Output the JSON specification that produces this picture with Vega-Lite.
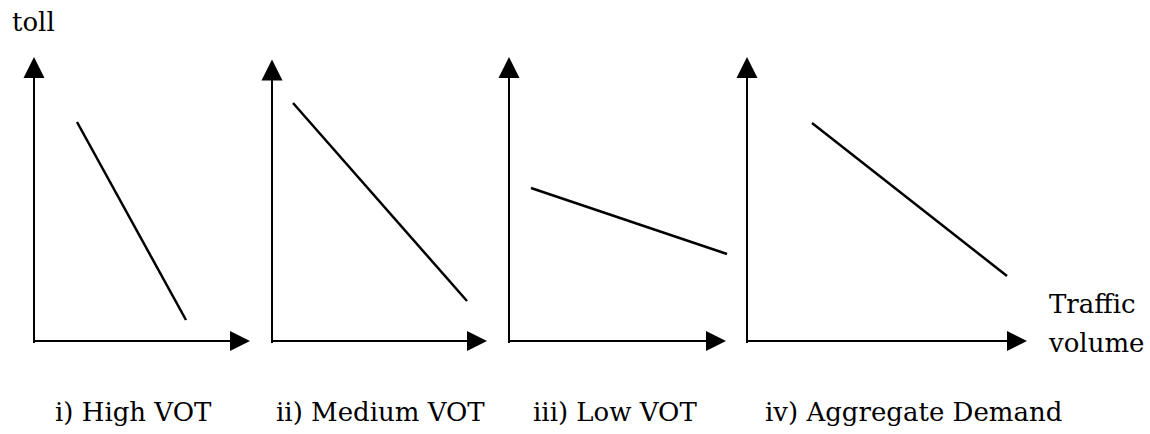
{
  "$schema": "https://vega.github.io/schema/vega-lite/v6.json",
  "width": 1150,
  "height": 434,
  "padding": 0,
  "autosize": {"type": "fit", "contains": "padding"},
  "background": "white",
  "config": {"view": {"stroke": null}},
  "datasets": {
    "axes": [
      {"panel": "i", "x": 34, "y": 91, "x2": 34, "y2": 364},
      {"panel": "i", "x": 34, "y": 93, "x2": 235, "y2": 93},
      {"panel": "ii", "x": 272, "y": 91, "x2": 272, "y2": 362},
      {"panel": "ii", "x": 272, "y": 93, "x2": 472, "y2": 93},
      {"panel": "iii", "x": 509, "y": 91, "x2": 509, "y2": 364},
      {"panel": "iii", "x": 509, "y": 93, "x2": 711, "y2": 93},
      {"panel": "iv", "x": 747, "y": 91, "x2": 747, "y2": 364},
      {"panel": "iv", "x": 747, "y": 93, "x2": 1012, "y2": 93}
    ],
    "demand": [
      {"panel": "i", "x": 77, "y": 312, "x2": 186, "y2": 114},
      {"panel": "ii", "x": 293, "y": 331, "x2": 467, "y2": 133},
      {"panel": "iii", "x": 531, "y": 246, "x2": 727, "y2": 180},
      {"panel": "iv", "x": 812, "y": 311, "x2": 1007, "y2": 158}
    ],
    "upArrows": [
      {"panel": "i", "x": 34, "y": 366.5},
      {"panel": "ii", "x": 272, "y": 364},
      {"panel": "iii", "x": 509, "y": 366.5},
      {"panel": "iv", "x": 747, "y": 366.5}
    ],
    "rightArrows": [
      {"panel": "i", "x": 240, "y": 93},
      {"panel": "ii", "x": 477, "y": 93},
      {"panel": "iii", "x": 716, "y": 93},
      {"panel": "iv", "x": 1017, "y": 93}
    ],
    "labels": [
      {"text": "toll", "x": 12, "y": 403},
      {"text": "i) High VOT", "x": 55, "y": 13},
      {"text": "ii) Medium VOT", "x": 276, "y": 13},
      {"text": "iii) Low VOT", "x": 533, "y": 13},
      {"text": "iv) Aggregate Demand", "x": 765, "y": 13},
      {"text": "Traffic", "x": 1049, "y": 121},
      {"text": "volume", "x": 1049, "y": 82}
    ]
  },
  "layer": [
    {
      "data": {"name": "axes"},
      "mark": {"type": "rule", "color": "black", "strokeWidth": 2},
      "encoding": {
        "x": {"field": "x", "type": "quantitative", "scale": {"domain": [0, 1150], "nice": false, "zero": false}, "axis": null},
        "y": {"field": "y", "type": "quantitative", "scale": {"domain": [0, 434], "nice": false, "zero": false}, "axis": null},
        "x2": {"field": "x2"},
        "y2": {"field": "y2"}
      }
    },
    {
      "data": {"name": "demand"},
      "mark": {"type": "rule", "color": "black", "strokeWidth": 2.5},
      "encoding": {
        "x": {"field": "x", "type": "quantitative"},
        "y": {"field": "y", "type": "quantitative"},
        "x2": {"field": "x2"},
        "y2": {"field": "y2"}
      }
    },
    {
      "data": {"name": "upArrows"},
      "mark": {"type": "point", "shape": "M-1,1L0,-1L1,1Z", "size": 441, "filled": true, "color": "black", "opacity": 1, "strokeWidth": 0},
      "encoding": {
        "x": {"field": "x", "type": "quantitative"},
        "y": {"field": "y", "type": "quantitative"}
      }
    },
    {
      "data": {"name": "rightArrows"},
      "mark": {"type": "point", "shape": "M-1,-1L1,0L-1,1Z", "size": 400, "filled": true, "color": "black", "opacity": 1, "strokeWidth": 0},
      "encoding": {
        "x": {"field": "x", "type": "quantitative"},
        "y": {"field": "y", "type": "quantitative"}
      }
    },
    {
      "data": {"name": "labels"},
      "mark": {"type": "text", "font": "DejaVu Serif", "fontSize": 26, "align": "left", "baseline": "alphabetic", "color": "black"},
      "encoding": {
        "x": {"field": "x", "type": "quantitative"},
        "y": {"field": "y", "type": "quantitative"},
        "text": {"field": "text"}
      }
    }
  ]
}
